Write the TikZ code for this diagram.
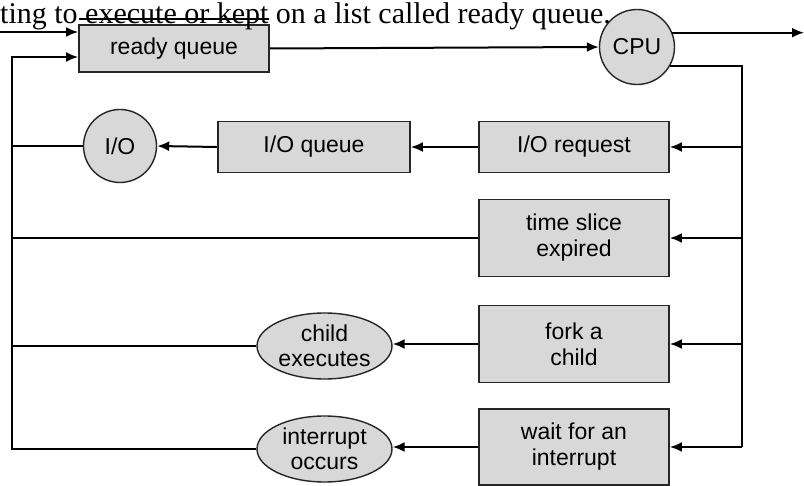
\documentclass[tikz,border=0pt]{standalone}
\usepackage{fontspec}
\setmainfont{Liberation Sans}
\newfontfamily\serifface{Liberation Serif}
\usetikzlibrary{shapes.geometric,arrows.meta,calc}
\definecolor{boxfill}{HTML}{D8D8D8}
\tikzset{
  stage/.style={draw=black!85, line width=1.8pt, fill=boxfill, rectangle, inner sep=0pt,
     minimum width=190pt, align=center, font=\fontsize{23}{26}\selectfont},
  roundnode/.style={draw=black!85, line width=1.4pt, fill=boxfill, circle, inner sep=0pt,
     align=center, font=\fontsize{23}{26}\selectfont},
  ovalnode/.style={draw=black!85, line width=1.4pt, fill=boxfill, ellipse, inner sep=0pt,
     minimum width=135pt, minimum height=66pt, align=center, font=\fontsize{23}{25}\selectfont},
  wire/.style={line width=2pt},
  arr/.style={line width=2pt, -{Latex[length=12pt,width=10pt]}},
}
\begin{document}
\begin{tikzpicture}[x=1pt,y=-1pt]
\useasboundingbox[fill=white] (0,0) rectangle (804,486);
% nodes
\node[stage, minimum height=47pt] (rq) at (174,48.5) {ready queue};
\node[roundnode, minimum size=75pt] (cpu) at (637,47) {CPU};
\node[roundnode, minimum size=73pt] (io) at (120,146) {I/O};
\node[stage, minimum width=192pt, minimum height=51pt] (ioq) at (314,147) {I/O queue};
\node[stage, minimum height=51pt] (ior) at (574,147) {I/O request};
\node[stage, minimum height=77pt] (ts) at (574,238) {time slice\\expired};
\node[stage, minimum height=77pt] (fork) at (574,344) {fork a\\child};
\node[stage, minimum height=76pt] (wait) at (574,447) {wait for an\\interrupt};
\node[ovalnode] (child) at (324.5,346) {child\\executes};
\node[ovalnode] (intr) at (324.5,449) {interrupt\\occurs};
% helper coordinates
\coordinate (in) at (0,32);
\coordinate (L) at (12,57);
\coordinate (R) at (742,0);
\coordinate (out) at (804,33);
% top text
\node[anchor=base west, inner sep=0pt, font=\serifface\fontsize{30}{36}\selectfont] (txt) at (0,24)
  {ting to execute or kept on a list called ready queue.};
\draw[line width=1.8pt] ($(rq.north west)+(1,-5)$) -- ($(rq.north east)+(-1,-5)$);
% connectors
\draw[arr] (in) -- (in -| rq.west);
\draw[arr] (rq.east) -- (cpu.west);
\draw[arr] (cpu.22) -- (cpu.22 -| out);
\draw[wire] (cpu.-30) -| (R |- wait.east);
\draw[arr] (R |- ior.east) -- (ior.east);
\draw[arr] (R |- ts.east) -- (ts.east);
\draw[arr] (R |- fork.east) -- (fork.east);
\draw[arr] (R |- wait.east) -- (wait.east);
\draw[arr] (ior.west) -- (ioq.east);
\draw[arr] (ioq.west) -- (io.east);
\draw[arr] (fork.west) -- (fork.west -| child.east);
\draw[arr] (wait.west) -- (wait.west -| intr.east);
\draw[wire] (io.west) -- (io.west -| L);
\draw[wire] (ts.west) -- (ts.west -| L);
\draw[wire] (child.west) -- (child.west -| L);
\draw[arr] (intr.west) -| (L) -- (L -| rq.west);
\end{tikzpicture}
\end{document}
